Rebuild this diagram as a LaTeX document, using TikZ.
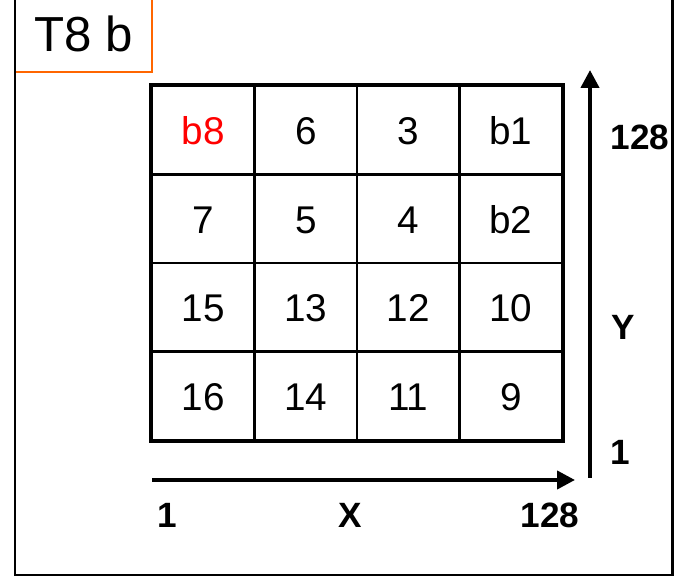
\documentclass[tikz,border=0pt]{standalone}
\usepackage{fontspec}
\setmainfont{Liberation Sans}
\usepackage{xcolor}
\usepackage{tikz}
\usetikzlibrary{arrows.meta, positioning, calc}

\definecolor{tagorange}{RGB}{255,102,0}

\begin{document}
\begin{tikzpicture}[
  arrow/.style={-{Triangle[length=0.36cm, width=0.36cm]}, line width=2.3pt},
  cell/.style={draw, line width=1.2pt, rectangle, minimum width=2.05cm, minimum height=1.77cm, align=center, inner sep=0pt, text height=0.58cm, text depth=0pt, font=\fontsize{22}{26}\selectfont},
  lbl/.style={font=\fontsize{20}{24}\selectfont\bfseries, align=center}
]
  \useasboundingbox (0,0) rectangle (13.58,11.56);

  % outer frame and tag
  \draw[line width=1.7pt] (0.30,11.8) rectangle (13.44,0.06);
  \draw[tagorange, line width=0.8pt, fill=white] (0.30,11.8) rectangle (3.04,10.12);
  \draw[line width=1.7pt] (0.30,11.8) -- (0.30,10.0);
  \node[font=\fontsize{28}{32}\selectfont] (tag) at (1.67,10.88) {T8 b};

  % Grid Row 1
  \node[cell] (c11) at (4.065, 8.955) {\textcolor{red}{b8}};
  \node[cell] (c12) at (6.115, 8.955) {6};
  \node[cell] (c13) at (8.165, 8.955) {3};
  \node[cell] (c14) at (10.215, 8.955) {b1};

  % Grid Row 2
  \node[cell] (c21) at (4.065, 7.185) {7};
  \node[cell] (c22) at (6.115, 7.185) {5};
  \node[cell] (c23) at (8.165, 7.185) {4};
  \node[cell] (c24) at (10.215, 7.185) {b2};

  % Grid Row 3
  \node[cell] (c31) at (4.065, 5.415) {15};
  \node[cell] (c32) at (6.115, 5.415) {13};
  \node[cell] (c33) at (8.165, 5.415) {12};
  \node[cell] (c34) at (10.215, 5.415) {10};

  % Grid Row 4
  \node[cell] (c41) at (4.065, 3.645) {16};
  \node[cell] (c42) at (6.115, 3.645) {14};
  \node[cell] (c43) at (8.165, 3.645) {11};
  \node[cell] (c44) at (10.215, 3.645) {9};

  \draw[line width=2.6pt] (c11.north west) rectangle (c44.south east);

  % Axes
  \coordinate (xstart) at (3.04, 1.96);
  \coordinate (xend) at (11.50, 1.96);
  \coordinate (ystart) at (11.80, 2.00);
  \coordinate (yend) at (11.80, 10.16);
  \draw[arrow] (xstart) -- (xend);
  \draw[arrow] (ystart) -- (yend);

  \node[lbl] (xmin) at (3.34, 1.26) {1};
  \node[lbl] (xlbl) at (7.00, 1.26) {X};
  \node[lbl] (xmax) at (11.00, 1.26) {128};

  \node[lbl] (ymax) at (12.80, 8.82) {128};
  \node[lbl] (ylbl) at (12.46, 5.02) {Y};
  \node[lbl] (ymin) at (12.40, 2.52) {1};

\end{tikzpicture}
\end{document}
